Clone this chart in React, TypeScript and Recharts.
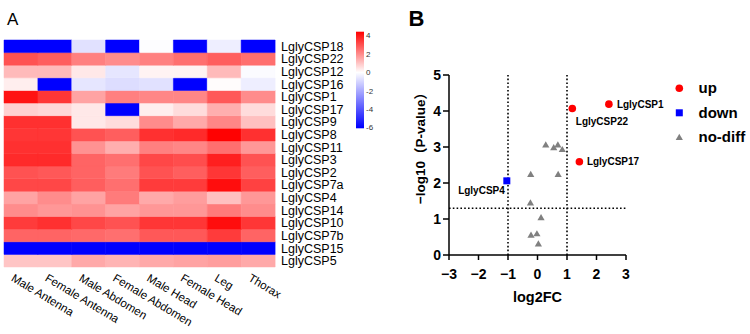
import React from 'react';
import {
  BarChart,
  Bar,
  Cell,
  XAxis,
  YAxis,
  ScatterChart,
  Scatter,
  ReferenceLine,
  Label,
} from 'recharts';

const FONT = '"Liberation Sans", Arial, "Noto Sans CJK SC", sans-serif';

// ---- Panel A: expression heatmap ----
const tissues = [
  'Male Antenna',
  'Female Antenna',
  'Male Abdomen',
  'Female Abdomen',
  'Male Head',
  'Female Head',
  'Leg',
  'Thorax',
];

// top to bottom
const genes = [
  'LglyCSP18', 'LglyCSP22', 'LglyCSP12', 'LglyCSP16', 'LglyCSP1', 'LglyCSP17',
  'LglyCSP9', 'LglyCSP8', 'LglyCSP11', 'LglyCSP3', 'LglyCSP2', 'LglyCSP7a',
  'LglyCSP4', 'LglyCSP14', 'LglyCSP10', 'LglyCSP7b', 'LglyCSP15', 'LglyCSP5',
];

// log2 relative expression per tissue (same order as tissues)
const csp18 = [-6, -6, -0.7, -6, -0.05, -6, -0.4, -6];
const csp22 = [3.0, 2.8, 2.2, 2.0, 2.2, 2.5, 2.8, 2.5];
const csp12 = [1.2, 1.2, 0.4, -0.6, 0.2, 0.2, 1.2, -0.1];
const csp16 = [0.3, -6, -0.6, -0.8, -0.7, -6, 0.05, -0.4];
const csp1 = [4.1, 3.5, 1.6, 2.2, 2.1, 2.1, 2.9, 2.0];
const csp17 = [0.8, 0.7, 0.4, -6, 0.3, 0.6, 1.4, 0.6];
const csp9 = [3.6, 3.6, 0.4, 0.6, 2.0, 1.5, 2.1, 1.1];
const csp8 = [3.5, 3.5, 3.0, 2.8, 3.6, 3.7, 4.4, 3.6];
const csp11 = [3.6, 3.6, 1.9, 1.4, 2.2, 2.1, 2.5, 1.8];
const csp3 = [3.7, 3.7, 2.7, 2.5, 3.2, 3.1, 3.9, 3.0];
const csp2 = [3.0, 2.9, 2.7, 2.3, 3.0, 2.8, 3.5, 2.8];
const csp7a = [3.2, 3.2, 2.8, 2.5, 3.4, 3.4, 4.2, 3.3];
const csp4 = [1.6, 2.0, 1.6, 2.3, 1.5, 1.7, 1.1, 1.8];
const csp14 = [2.0, 1.8, 1.9, 1.6, 1.8, 1.8, 2.3, 2.0];
const csp10 = [3.4, 3.6, 3.2, 3.0, 3.5, 3.5, 4.2, 3.5];
const csp7b = [2.7, 2.7, 2.6, 2.5, 2.9, 2.9, 3.4, 2.7];
const csp15 = [-6, -6, -6, -6, -6, -6, -6, -6];
const csp5 = [1.0, 1.0, 1.5, 1.3, 1.5, 1.6, 1.7, 1.5];

const exprRows = [
  csp18, csp22, csp12, csp16, csp1, csp17, csp9, csp8, csp11,
  csp3, csp2, csp7a, csp4, csp14, csp10, csp7b, csp15, csp5,
];

const scaleTicks = [-6, -4, -2, 0, 2, 4];
const SCALE_MAX = 4.43;
const SCALE_MIN = -6.07;

function heatColor(v: number) {
  if (v >= 0) {
    const t = Math.min(v / SCALE_MAX, 1);
    const c = Math.round(255 * (1 - t));
    return `rgb(255,${c},${c})`;
  }
  const t = Math.min(-v / 6, 1);
  const c = Math.round(255 * (1 - t));
  return `rgb(${c},${c},255)`;
}

// one unit-height segment per gene, stacked inside each tissue column
const heatData = tissues.map((tissue) => {
  const row: Record<string, string | number> = { tissue };
  genes.forEach((g) => {
    row[g] = 1;
  });
  return row;
});

const geneTicks = genes.map((_, i) => genes.length - 0.5 - i);

function TissueTick(props: any) {
  const { x, y, payload } = props;
  return (
    <text
      transform={`translate(${x - 10.5},${y + 13.2}) rotate(31)`}
      fontSize={11.5}
      fill="#000"
      fontFamily={FONT}
    >
      {payload.value}
    </text>
  );
}

function Heatmap() {
  const bottomUp = genes.map((g, i) => ({ g, i })).reverse();
  return (
    <BarChart
      width={355}
      height={334}
      data={heatData}
      margin={{ top: 40, right: 0, bottom: 0, left: 4 }}
      barCategoryGap={0}
      barGap={0}
    >
      <XAxis
        dataKey="tissue"
        type="category"
        axisLine={false}
        tickLine={false}
        tickSize={0}
        tickMargin={0}
        height={67}
        interval={0}
        tick={<TissueTick />}
      />
      <YAxis
        type="number"
        orientation="right"
        domain={[0, genes.length]}
        ticks={geneTicks}
        interval={0}
        width={80}
        axisLine={false}
        tickLine={false}
        tickSize={0}
        tickMargin={6}
        tick={{ fontSize: 12.5, fill: '#000', fontFamily: FONT }}
        tickFormatter={(v: number) => genes[Math.round(genes.length - 0.5 - v)]}
      />
      {bottomUp.map(({ g, i }) => (
        <Bar key={g} dataKey={g} stackId="heat" isAnimationActive={false}>
          {tissues.map((t, ti) => {
            const c = heatColor(exprRows[i][ti]);
            return <Cell key={t} fill={c} stroke={c} strokeWidth={0.5} />;
          })}
        </Bar>
      ))}
    </BarChart>
  );
}

function ColorScale() {
  const span = SCALE_MAX - SCALE_MIN;
  const whiteAt = SCALE_MAX / span;
  const blueAt = (SCALE_MAX + 6) / span;
  return (
    <BarChart
      width={44}
      height={140}
      data={[{ name: 'scale', range: [SCALE_MIN, SCALE_MAX] }]}
      margin={{ top: 31.7, right: 0, bottom: 11.7, left: 6 }}
      barCategoryGap={0}
    >
      <defs>
        <linearGradient id="scaleGrad" x1="0" y1="0" x2="0" y2="1">
          <stop offset="0" stopColor="#ff0000" />
          <stop offset={whiteAt} stopColor="#ffffff" />
          <stop offset={blueAt} stopColor="#0000ff" />
          <stop offset="1" stopColor="#0000ff" />
        </linearGradient>
      </defs>
      <XAxis dataKey="name" hide />
      <YAxis
        type="number"
        orientation="right"
        domain={[SCALE_MIN, SCALE_MAX]}
        ticks={scaleTicks}
        interval={0}
        width={30}
        axisLine={false}
        tickLine={false}
        tickSize={0}
        tickMargin={2}
        tick={{ fontSize: 8, fill: '#333', fontFamily: FONT }}
      />
      <Bar dataKey="range" fill="url(#scaleGrad)" isAnimationActive={false} />
    </BarChart>
  );
}

// ---- Panel B: volcano plot ----
const upPoints = [
  { name: 'LglyCSP1', x: 2.42, y: 4.19 },
  { name: 'LglyCSP22', x: 1.18, y: 4.07 },
  { name: 'LglyCSP17', x: 1.42, y: 2.59 },
];
const downPoints = [{ name: 'LglyCSP4', x: -1.04, y: 2.06 }];
const noDiffPoints = [
  { name: 'a', x: 0.28, y: 3.06 },
  { name: 'b', x: 0.69, y: 3.06 },
  { name: 'c', x: 0.55, y: 2.98 },
  { name: 'd', x: 0.84, y: 2.93 },
  { name: 'e', x: -0.23, y: 2.24 },
  { name: 'f', x: 0.7, y: 2.24 },
  { name: 'g', x: -0.24, y: 1.45 },
  { name: 'h', x: 0.12, y: 1.04 },
  { name: 'i', x: -0.22, y: 0.55 },
  { name: 'j', x: -0.02, y: 0.59 },
  { name: 'k', x: 0.03, y: 0.31 },
];
const xTicks = [-3, -2, -1, 0, 1, 2, 3];
const yTicks = [0, 1, 2, 3, 4, 5];
const foldCut = [-1, 1];
const pCut = 1.3;

// where each gene name sits relative to its marker
const labelPlacement: Record<string, { dx: number; dy: number; anchor: string }> = {
  LglyCSP1: { dx: 8, dy: 3.5, anchor: 'start' },
  LglyCSP22: { dx: 3.5, dy: 16.5, anchor: 'start' },
  LglyCSP17: { dx: 7.5, dy: 3.5, anchor: 'start' },
  LglyCSP4: { dx: -2, dy: 13.5, anchor: 'end' },
};

const legendItems = [
  { name: 'up', kind: 'circle', color: '#ff0000' },
  { name: 'down', kind: 'square', color: '#0000ff' },
  { name: 'no-diff', kind: 'triangle', color: '#808080' },
];

function Marker({ kind, cx, cy, color }: { kind: string; cx: number; cy: number; color: string }) {
  if (kind === 'circle') return <circle cx={cx} cy={cy} r={3.8} fill={color} />;
  if (kind === 'square') return <rect x={cx - 3.5} y={cy - 3.5} width={7} height={7} fill={color} />;
  return (
    <polygon
      points={`${cx},${cy - 3.6} ${cx - 3.6},${cy + 2.6} ${cx + 3.6},${cy + 2.6}`}
      fill={color}
    />
  );
}

function pointShape(kind: string, color: string) {
  return (props: any) => {
    const { cx, cy, payload } = props;
    const place = labelPlacement[payload.name];
    return (
      <g>
        <Marker kind={kind} cx={cx} cy={cy} color={color} />
        {place && (
          <text
            x={cx + place.dx}
            y={cy + place.dy}
            textAnchor={place.anchor}
            fontSize={10}
            fontWeight={700}
            fill="#000"
            fontFamily={FONT}
          >
            {payload.name}
          </text>
        )}
      </g>
    );
  };
}

const fmtMinus = (v: number) => (v < 0 ? `\u2212${-v}` : `${v}`);

function XTitle(props: any) {
  const { viewBox } = props;
  return (
    <text
      x={viewBox.x + viewBox.width / 2}
      y={viewBox.y + 47}
      textAnchor="middle"
      fontSize={14.5}
      fontWeight={700}
      fill="#000"
      fontFamily={FONT}
    >
      log2FC
    </text>
  );
}

function YTitle(props: any) {
  const { viewBox } = props;
  const x = viewBox.x + 45;
  const y = viewBox.y + viewBox.height / 2 - 20;
  return (
    <text
      x={x}
      y={y}
      transform={`rotate(-90, ${x}, ${y})`}
      textAnchor="middle"
      fontSize={13.5}
      fontWeight={700}
      fill="#000"
      fontFamily={FONT}
    >
      {'\u2212log10\uff08P-value\uff09'}
    </text>
  );
}

const axisStyle = { stroke: '#000', strokeWidth: 1.5 };
const tickText = { fontSize: 14, fontWeight: 700, fill: '#000', fontFamily: FONT };

function Volcano() {
  return (
    <ScatterChart width={370} height={334} margin={{ top: 75, right: 124, bottom: 29, left: 0 }}>
      <XAxis
        type="number"
        dataKey="x"
        domain={[-3, 3]}
        ticks={xTicks}
        interval={0}
        height={50}
        axisLine={axisStyle}
        tickLine={axisStyle}
        tickSize={5}
        tickMargin={9}
        tick={tickText}
        tickFormatter={fmtMinus}
      >
        <Label content={<XTitle />} />
      </XAxis>
      <YAxis
        type="number"
        dataKey="y"
        domain={[0, 5]}
        ticks={yTicks}
        interval={0}
        width={69}
        axisLine={axisStyle}
        tickLine={axisStyle}
        tickSize={6}
        tickMargin={2}
        tick={tickText}
      >
        <Label content={<YTitle />} />
      </YAxis>
      {foldCut.map((v) => (
        <ReferenceLine key={v} x={v} stroke="#000" strokeWidth={1.6} strokeDasharray="1.6 2.2" />
      ))}
      <ReferenceLine y={pCut} stroke="#000" strokeWidth={1.6} strokeDasharray="1.6 2.2" />
      <Scatter data={noDiffPoints} shape={pointShape('triangle', '#808080')} isAnimationActive={false} />
      <Scatter data={downPoints} shape={pointShape('square', '#0000ff')} isAnimationActive={false} />
      <Scatter data={upPoints} shape={pointShape('circle', '#ff0000')} isAnimationActive={false} />
    </ScatterChart>
  );
}

function VolcanoLegend() {
  return (
    <svg width={90} height={80} style={{ position: 'absolute', left: 660, top: 70 }}>
      {legendItems.map((item, i) => {
        const cy = 18.3 + i * 24.5;
        return (
          <g key={item.name}>
            <Marker kind={item.kind} cx={19.3} cy={cy} color={item.color} />
            <text x={38.5} y={cy + 5} fontSize={15} fontWeight={700} fill="#000" fontFamily={FONT}>
              {item.name}
            </text>
          </g>
        );
      })}
    </svg>
  );
}

export default function App() {
  return (
    <div
      style={{
        position: 'absolute',
        left: 0,
        top: 0,
        width: 750,
        height: 334,
        background: '#fff',
        fontFamily: FONT,
        overflow: 'hidden',
      }}
    >
      <div style={{ position: 'absolute', left: 0, top: 0 }}>
        <Heatmap />
      </div>
      <div style={{ position: 'absolute', left: 350, top: 0 }}>
        <ColorScale />
      </div>
      <div style={{ position: 'absolute', left: 380, top: 0 }}>
        <Volcano />
      </div>
      <VolcanoLegend />
      <svg width={750} height={40} style={{ position: 'absolute', left: 0, top: 0, pointerEvents: 'none' }}>
        <text x={7} y={25} fontSize={17} fill="#000" fontFamily={FONT}>
          A
        </text>
        <text x={408.5} y={26} fontSize={22} fontWeight={700} fill="#000" fontFamily={FONT}>
          B
        </text>
      </svg>
    </div>
  );
}
